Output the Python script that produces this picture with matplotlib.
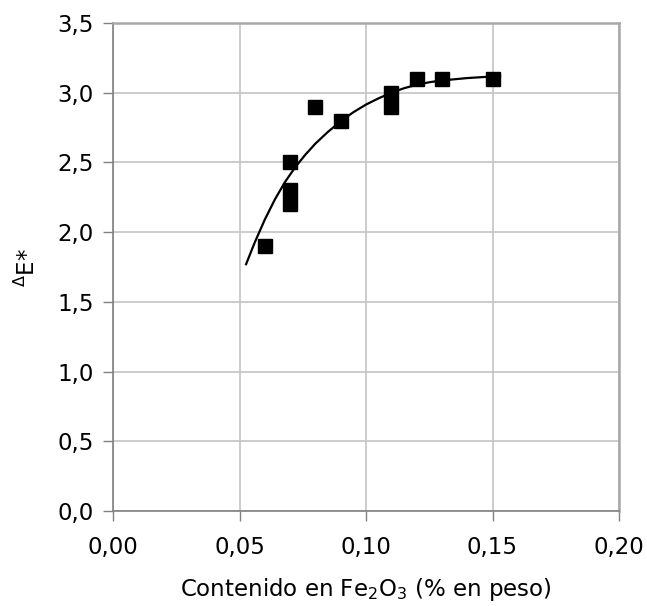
import matplotlib
matplotlib.use("Agg")
import matplotlib.pyplot as plt
from matplotlib.ticker import FuncFormatter

# measured points
fe2o3 = [0.06, 0.07, 0.07, 0.07, 0.08, 0.09, 0.11, 0.11, 0.12, 0.13, 0.15]
delta_e = [1.9, 2.5, 2.3, 2.2, 2.9, 2.8, 3.0, 2.9, 3.1, 3.1, 3.1]

# trend line
trend_x = [0.0526, 0.056, 0.060, 0.064, 0.068, 0.072, 0.076, 0.080, 0.085, 0.090,
           0.095, 0.100, 0.105, 0.110, 0.115, 0.120, 0.125, 0.130, 0.140, 0.153]
trend_y = [1.770, 1.925, 2.090, 2.235, 2.360, 2.465, 2.555, 2.635, 2.720, 2.795,
           2.860, 2.915, 2.960, 3.000, 3.032, 3.057, 3.075, 3.088, 3.105, 3.120]

x_ticks = [0.00, 0.05, 0.10, 0.15, 0.20]
y_ticks = [0.0, 0.5, 1.0, 1.5, 2.0, 2.5, 3.0, 3.5]

plt.rcParams["font.family"] = ["DejaVu Sans"]

fig = plt.figure(figsize=(6.47, 6.06), dpi=100)
ax = fig.add_axes([113 / 647, 95 / 606, 506 / 647, 488 / 606])

ax.plot(trend_x, trend_y, color="black", lw=1.6, zorder=3)
ax.plot(fe2o3, delta_e, ls="none", marker="s", ms=10, color="black", zorder=4)

ax.set_xlim(0, 0.2)
ax.set_ylim(0, 3.5)
ax.set_xticks(x_ticks)
ax.set_yticks(y_ticks)
ax.xaxis.set_major_formatter(FuncFormatter(lambda v, _: f"{v:.2f}".replace(".", ",")))
ax.yaxis.set_major_formatter(FuncFormatter(lambda v, _: f"{v:.1f}".replace(".", ",")))
ax.tick_params(labelsize=16.5, length=7, width=1, color="#808080")
ax.tick_params(axis="x", pad=11)
ax.tick_params(axis="y", pad=7)

ax.grid(True, color="#c4c4c4", lw=1.2)
ax.set_axisbelow(True)
for side in ["left", "bottom"]:
    ax.spines[side].set_color("#808080")
    ax.spines[side].set_linewidth(1.2)
for side in ["top", "right"]:
    ax.spines[side].set_color("#a8a8a8")
    ax.spines[side].set_linewidth(1.8)

ax.set_xlabel("Contenido en Fe$_2$O$_3$ (% en peso)", fontsize=16.5, labelpad=12)
ax.set_ylabel(r"$^{\Delta}$E*", fontsize=16.5, labelpad=12)

fig.savefig("out.png", dpi=100)
